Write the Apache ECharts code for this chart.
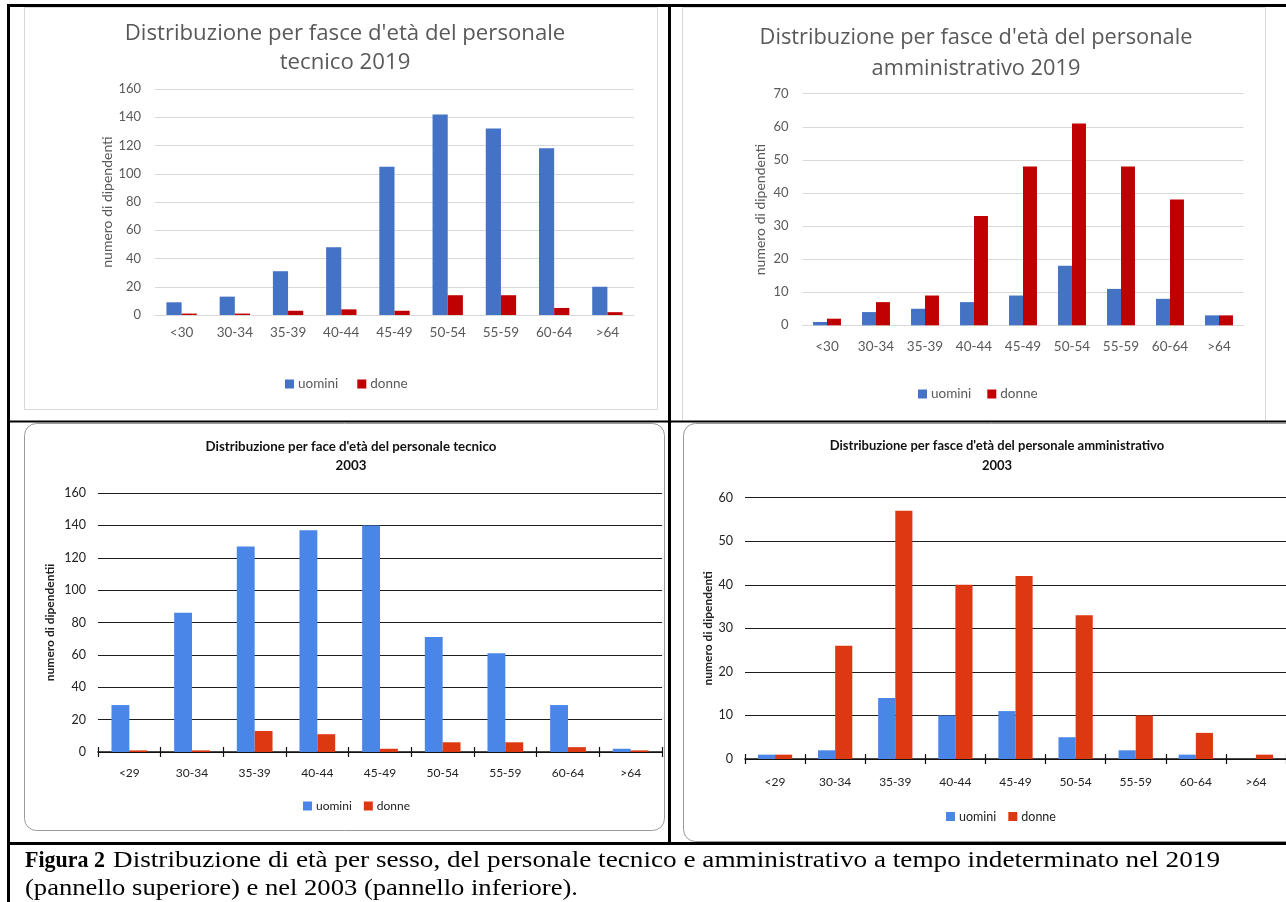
<!DOCTYPE html>
<html>
<head>
<meta charset="utf-8">
<script src="https://cdn.jsdelivr.net/npm/echarts@6/dist/echarts.min.js"></script>
<style>
html,body{margin:0;padding:0;background:#fff;}
#c{width:1286px;height:902px;}
</style>
</head>
<body>
<div id="c"></div>
<script>
// ---- data ----
const cats2019 = ['<30','30-34','35-39','40-44','45-49','50-54','55-59','60-64','>64'];
const cats2003 = ['<29','30-34','35-39','40-44','45-49','50-54','55-59','60-64','>64'];
const tec2019Uomini = [9, 13, 31, 48, 105, 142, 132, 118, 20];
const tec2019Donne  = [1, 1, 3, 4, 3, 14, 14, 5, 2];
const amm2019Uomini = [1, 4, 5, 7, 9, 18, 11, 8, 3];
const amm2019Donne  = [2, 7, 9, 33, 48, 61, 48, 38, 3];
const tec2003Uomini = [29, 86, 127, 137, 140, 71, 61, 29, 2];
const tec2003Donne  = [1, 1, 13, 11, 2, 6, 6, 3, 1];
const amm2003Uomini = [1, 2, 14, 10, 11, 5, 2, 1, 0];
const amm2003Donne  = [1, 26, 57, 40, 42, 33, 10, 6, 1];
const titles = [
  "Distribuzione per fasce d'età del personale\ntecnico 2019",
  "Distribuzione per fasce d'età del personale\namministrativo 2019",
  "Distribuzione per face d'età del personale tecnico\n2003",
  "Distribuzione per fasce d'età del personale amministrativo\n2003"
];
const yName2019 = 'numero di dipendenti';
const yNameTec2003 = 'numero di dipendentii';
const yNameAmm2003 = 'numero di dipendenti';
const legendNames = ['uomini', 'donne'];
const captionBold = 'Figura 2';
const captionLine1 = 'Distribuzione di età per sesso, del personale tecnico e amministrativo a tempo indeterminato nel 2019';
const captionLine2 = '(pannello superiore) e nel 2003 (pannello inferiore).';

// ---- styles ----
const TOP_FONT = 'Lato, "Liberation Sans", sans-serif';
const TITLE_FONT = '"Open Sans", Lato, sans-serif';
const BOT_FONT = 'Lato, "Liberation Sans", sans-serif';
const SERIF = '"Liberation Serif", "Times New Roman", serif';
const TOP_BLUE = '#4472c4', TOP_RED = '#c00000';
const BOT_BLUE = '#4a86e8', BOT_RED = '#dc3912';

const grids = [
  {left:155, top:89, width:479, height:226},
  {left:802.5, top:93.7, width:441, height:231.6},
  {left:98, top:493, width:564, height:259},
  {left:745, top:497.7, width:542, height:261.3}
];

// horizontal scale helper so the caption lines span the widths seen in the figure
const measureCtx = document.createElement('canvas').getContext('2d');
function fitScale(text, weight, size, target) {
  measureCtx.font = weight + ' ' + size + 'px ' + SERIF;
  return target / measureCtx.measureText(text).width;
}

function topY(gi, max, interval, gap) {
  return {
    type:'value', gridIndex:gi, min:0, max:max, interval:interval,
    name: yName2019, nameLocation:'middle', nameRotate:90, nameGap:gap,
    nameTextStyle:{fontFamily:TOP_FONT, fontSize:14, color:'#595959'},
    axisLine:{show:false}, axisTick:{show:false},
    axisLabel:{fontFamily:TOP_FONT, fontSize:13, color:'#595959', margin:14},
    splitLine:{lineStyle:{color:'#d9d9d9', width:1}}
  };
}
function topX(gi, margin) {
  return {
    type:'category', gridIndex:gi, data:cats2019,
    axisLine:{lineStyle:{color:'#d9d9d9', width:1}}, axisTick:{show:false},
    axisLabel:{fontFamily:TOP_FONT, fontSize:13.5, color:'#595959', margin:margin, interval:0}
  };
}
function botY(gi, max, interval, name, gap) {
  return {
    type:'value', gridIndex:gi, min:0, max:max, interval:interval,
    name:name, nameLocation:'middle', nameRotate:90, nameGap:gap,
    nameTextStyle:{fontFamily:BOT_FONT, fontSize:12, fontWeight:'bold', color:'#222'},
    axisLine:{show:false}, axisTick:{show:false},
    axisLabel:{fontFamily:BOT_FONT, fontSize:12.5, color:'#222', margin:12},
    splitLine:{lineStyle:{color:'#1e1e1e', width:1.2}}
  };
}
function botX(gi, cats, margin) {
  return {
    type:'category', gridIndex:gi, data:cats, position:'bottom',
    axisLine:{lineStyle:{color:'#111', width:1.5}},
    axisTick:{show:true, length:5, lineStyle:{color:'#111', width:1.2}},
    axisLabel:{fontFamily:BOT_FONT, fontSize:12, color:'#222', margin:margin, interval:0}
  };
}
function botXInner(gi, cats) {
  return {
    type:'category', gridIndex:gi, data:cats, position:'bottom',
    axisLine:{show:false},
    axisTick:{show:true, inside:true, length:5, lineStyle:{color:'#111', width:1.2}},
    axisLabel:{show:false}, splitLine:{show:false}
  };
}
function bar(name, xi, yi, data, color) {
  return {type:'bar', name:name, xAxisIndex:xi, yAxisIndex:yi, data:data,
    barGap:'0%', barCategoryGap:'43%', itemStyle:{color:color}, silent:true};
}
function legend(left, top, blue, red, font, size, gap, color) {
  return {
    left:left, top:top, itemWidth:9, itemHeight:9, itemGap:gap, icon:'rect',
    selectedMode:false,
    textStyle:{fontFamily:font, fontSize:size, color:color, padding:[0,0,0,-1]},
    data:[{name:legendNames[0], itemStyle:{color:blue}}, {name:legendNames[1], itemStyle:{color:red}}]
  };
}

const CAP_SIZE = 24;
const sBold = fitScale(captionBold, 'bold', CAP_SIZE, 80);
const sLine1 = fitScale(captionLine1, 'normal', CAP_SIZE, 1107);
const sLine2 = fitScale(captionLine2, 'normal', CAP_SIZE, 553);

const option = {
  animation:false,
  title:[
    {text:titles[0], left:340, top:14, textAlign:'center',
     textStyle:{fontFamily:TITLE_FONT, fontSize:22.2, fontWeight:'normal', color:'#595959', lineHeight:29}},
    {text:titles[1], left:971, top:17, textAlign:'center',
     textStyle:{fontFamily:TITLE_FONT, fontSize:21.8, fontWeight:'normal', color:'#595959', lineHeight:31}},
    {text:titles[2], left:346, top:432, textAlign:'center',
     textStyle:{fontFamily:BOT_FONT, fontSize:13.3, fontWeight:'bold', color:'#111', lineHeight:19}},
    {text:titles[3], left:992, top:431, textAlign:'center',
     textStyle:{fontFamily:BOT_FONT, fontSize:13, fontWeight:'bold', color:'#111', lineHeight:20}}
  ],
  grid: grids,
  xAxis:[ topX(0, 11), topX(1, 14), botX(2, cats2003, 15), botX(3, cats2003, 17),
          botXInner(2, cats2003), botXInner(3, cats2003) ],
  yAxis:[ topY(0, 160, 20, 41), topY(1, 70, 10, 35),
          botY(2, 160, 20, yNameTec2003, 42), botY(3, 60, 10, yNameAmm2003, 31) ],
  legend:[
    legend(280, 372, TOP_BLUE, TOP_RED, TOP_FONT, 13.5, 19, '#595959'),
    legend(913, 382, TOP_BLUE, TOP_RED, TOP_FONT, 13.5, 16, '#595959'),
    legend(298, 795, BOT_BLUE, BOT_RED, BOT_FONT, 12, 12, '#222'),
    legend(941, 805, BOT_BLUE, BOT_RED, BOT_FONT, 12.5, 12, '#222')
  ],
  series:[
    bar(legendNames[0], 0, 0, tec2019Uomini, TOP_BLUE),
    bar(legendNames[1], 0, 0, tec2019Donne, TOP_RED),
    bar(legendNames[0], 1, 1, amm2019Uomini, TOP_BLUE),
    bar(legendNames[1], 1, 1, amm2019Donne, TOP_RED),
    bar(legendNames[0], 2, 2, tec2003Uomini, BOT_BLUE),
    bar(legendNames[1], 2, 2, tec2003Donne, BOT_RED),
    bar(legendNames[0], 3, 3, amm2003Uomini, BOT_BLUE),
    bar(legendNames[1], 3, 3, amm2003Donne, BOT_RED)
  ],
  graphic:[
    // chart area borders
    {type:'rect', shape:{x:24.5, y:7.5, width:633, height:402}, style:{fill:'none', stroke:'#d9d9d9', lineWidth:1}, z:-1, silent:true},
    {type:'rect', shape:{x:682.5, y:7.5, width:583, height:414}, style:{fill:'none', stroke:'#d9d9d9', lineWidth:1}, z:-1, silent:true},
    {type:'rect', shape:{x:24.5, y:423.5, width:640, height:407, r:12}, style:{fill:'none', stroke:'#9a9a9a', lineWidth:1}, z:-1, silent:true},
    {type:'rect', shape:{x:683.5, y:423.5, width:640, height:418, r:12}, style:{fill:'none', stroke:'#9a9a9a', lineWidth:1}, z:-1, silent:true},
    // black frame
    {type:'line', shape:{x1:7, y1:5.5, x2:1286, y2:5.5}, style:{stroke:'#000', lineWidth:3}, silent:true},
    {type:'line', shape:{x1:8.5, y1:4, x2:8.5, y2:902}, style:{stroke:'#000', lineWidth:3}, silent:true},
    {type:'line', shape:{x1:669.5, y1:4, x2:669.5, y2:844}, style:{stroke:'#000', lineWidth:3}, silent:true},
    {type:'line', shape:{x1:8, y1:421.5, x2:1286, y2:421.5}, style:{stroke:'#000', lineWidth:2}, silent:true},
    {type:'line', shape:{x1:8, y1:843.5, x2:1286, y2:843.5}, style:{stroke:'#000', lineWidth:3}, silent:true},
    // caption
    {type:'text', x:25, y:861, scaleX:sBold, silent:true,
     style:{text:captionBold, fontFamily:SERIF, fontSize:CAP_SIZE, fontWeight:'bold', fill:'#000', verticalAlign:'middle'}},
    {type:'text', x:113, y:861, scaleX:sLine1, silent:true,
     style:{text:captionLine1, fontFamily:SERIF, fontSize:CAP_SIZE, fontWeight:'normal', fill:'#000', verticalAlign:'middle'}},
    {type:'text', x:25, y:889, scaleX:sLine2, silent:true,
     style:{text:captionLine2, fontFamily:SERIF, fontSize:CAP_SIZE, fontWeight:'normal', fill:'#000', verticalAlign:'middle'}}
  ]
};
const chart = echarts.init(document.getElementById('c'), null, {renderer:'canvas'});
chart.setOption(option);
</script>
</body>
</html>
